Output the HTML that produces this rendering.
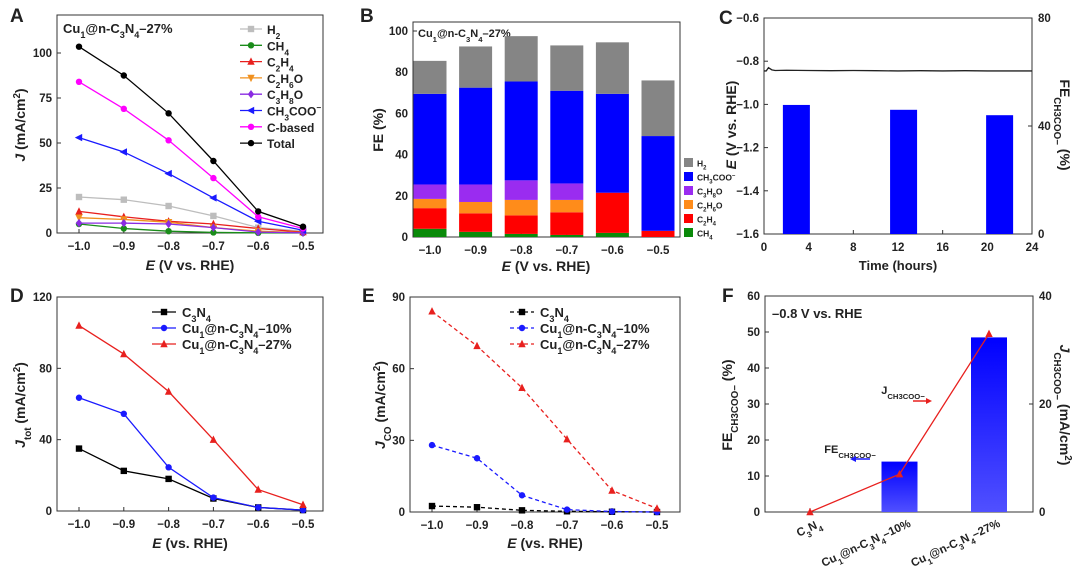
<!DOCTYPE html>
<html><head><meta charset="utf-8"><style>
body{margin:0;background:#fff}
svg{display:block;font-family:"Liberation Sans",sans-serif}
text{font-weight:bold;fill:#222}
</style></head><body>
<svg id="s" width="1080" height="571" viewBox="0 0 1080 571">
<defs><linearGradient id="gb" x1="0" y1="0" x2="0" y2="1"><stop offset="0" stop-color="#0000ff"/><stop offset="1" stop-color="#5050ff"/></linearGradient></defs>
</svg>
<script>
// ---------- data ----------
const potentials=[-1.0,-0.9,-0.8,-0.7,-0.6,-0.5];
const aH2=[20,18.5,15,9.5,3,1];
const aCH4=[5,2.5,1,0.3,0.1,0];
const aC2H4=[12,9,6.5,5,2.5,0.5];
const aC2H6O=[8.5,7.5,6,3,1,0.2];
const aC3H8O=[5.5,5.5,5,3,0.5,0.1];
const aCH3COO=[53,45,33,19.5,6.5,1.5];
const aCbased=[84,69,51.5,30.5,9,2.5];
const aTotal=[103.5,87.5,66.5,40,12,3.5];
const bCH4=[4,2.5,1.5,1,2,0];
const bC2H4=[10,9,9,11,19.5,3];
const bC2H6O=[4.5,5.5,7.5,6,0,0];
const bC3H8O=[7,8.5,9.5,8,0,0];
const bCH3COO=[44,47,48,45,48,46];
const bH2=[16,20,22,22,25,27];
const cTime=[0,0.2,0.4,0.7,1,2,4,6,8,10,12,14,16,18,20,22,24];
const cE=[-0.845,-0.845,-0.83,-0.84,-0.843,-0.842,-0.843,-0.844,-0.843,-0.844,-0.845,-0.844,-0.845,-0.844,-0.845,-0.845,-0.845];
const cBarT=[2.9,12.5,21.1];
const cBarFE=[47.8,46,44];
const dC3N4=[35,22.5,18,7,2,0.5];
const d10=[63.5,54.5,24.5,7.5,2,0.5];
const d27=[104,88,67,40,12,3.5];
const eC3N4=[2.5,2,0.7,0.3,0.1,0];
const e10=[28,22.5,7,1,0.2,0];
const e27=[84,69.5,52,30.5,9,1.5];
const fCats=["C_3N_4","Cu_1@n-C_3N_4–10%","Cu_1@n-C_3N_4–27%"];
const fFE=[0,14,48.5];
const fJ=[0,7,33];
const xTicks=[-1.0,-0.9,-0.8,-0.7,-0.6,-0.5];

const S=document.getElementById('s');
const NS='http://www.w3.org/2000/svg';
function mk(tag,attrs,name,parent){const el=document.createElementNS(NS,tag);for(const k in attrs)el.setAttribute(k,attrs[k]);


(parent||S).appendChild(el);return el;}
function fmt(s){return s.replace(/_(\{[^}]*\}|.)/g,(m,g)=>'<tspan baseline-shift="sub" font-size="70%">'+g.replace(/[{}]/g,'')+'</tspan>').replace(/\^(\{[^}]*\}|.)/g,(m,g)=>'<tspan baseline-shift="super" font-size="70%">'+g.replace(/[{}]/g,'')+'</tspan>');}
function txt(x,y,s,size,name,opt){opt=opt||{};const t=mk('text',{x:x,y:y,'font-size':size,'text-anchor':opt.anchor||'middle',fill:opt.fill||'#222'},name);
if(opt.rot!==undefined)t.setAttribute('transform','rotate('+opt.rot+' '+x+' '+y+')');
if(opt.italicFirst){t.innerHTML='<tspan font-style="italic">'+opt.italicFirst+'</tspan>'+fmt(s);}else t.innerHTML=fmt(s);return t;}
function lin(d0,d1,p0,p1){return v=>p0+(v-d0)*(p1-p0)/(d1-d0);}
function box(x0,y0,x1,y1,name){mk('rect',{x:x0,y:y0,width:x1-x0,height:y1-y0,fill:'none',stroke:'#333','stroke-width':1},name);}
function marker(type,x,y,c,name){const r=3.2;let el;
if(type==='s')el=mk('rect',{x:x-r,y:y-r,width:2*r,height:2*r,fill:c},name);
else if(type==='o')el=mk('circle',{cx:x,cy:y,r:r,fill:c},name);
else{let p;if(type==='^')p=[[x,y-r-1],[x-r-0.5,y+r],[x+r+0.5,y+r]];else if(type==='v')p=[[x,y+r+1],[x-r-0.5,y-r],[x+r+0.5,y-r]];else if(type==='d')p=[[x,y-r-1],[x+r,y],[x,y+r+1],[x-r,y]];else p=[[x-r-1,y],[x+r,y-r-0.5],[x+r,y+r+0.5]];
el=mk('polygon',{points:p.map(q=>q.join(',')).join(' '),fill:c},name);}return el;}
function series(X,Y,xs,ys,c,m,name,dash){const pts=xs.map((v,i)=>X(v)+','+Y(ys[i])).join(' ');
mk('polyline',{points:pts,fill:'none',stroke:c,'stroke-width':1.3,'stroke-dasharray':dash||'none'},name+'-line');
xs.forEach((v,i)=>marker(m,X(v),Y(ys[i]),c,name+'-point'));}
function yTicks(Y,x,vals,labels,name,side){vals.forEach((v,i)=>{const dir=side==='r'?-1:1;
mk('line',{x1:x,y1:Y(v),x2:x+4*dir,y2:Y(v),stroke:'#333'},name+'-tick');
if(labels)txt(side==='r'?x+6:x-5,Y(v)+4,labels[i],11.5,name+'-label',{anchor:side==='r'?'start':'end'});});}
function xTick(X,y,vals,labels,name){vals.forEach((v,i)=>{mk('line',{x1:X(v),y1:y,x2:X(v),y2:y-4,stroke:'#333'},name+'-tick');
if(labels)txt(X(v),y+17,labels[i],11.5,name+'-label');});}
const potLabels=xTicks.map(v=>'−'+Math.abs(v).toFixed(1));

// ---------- panel letters ----------
[['A',10,22],['B',360,22],['C',719,24],['D',10,302],['E',362,302],['F',722,302]].forEach(p=>txt(p[1],p[2],p[0],19,'panel-label-'+p[0].toLowerCase(),{anchor:'start'}));

// ---------- Panel A ----------
{const X=lin(-1,-0.5,79,303),Y=lin(0,100,233,53);box(57,15,323,233,'panel-a-plot-area');
yTicks(Y,57,[0,25,50,75,100],['0','25','50','75','100'],'a-y');xTick(X,233,xTicks,potLabels,'a-x');
txt(25,125,' (mA/cm^2)',14,'a-y-axis-title',{rot:-90,italicFirst:'J'});
txt(190,270,' (V vs. RHE)',14,'a-x-axis-title',{italicFirst:'E'});
txt(63,33,'Cu_1@n-C_3N_4–27%',13,'a-sample-label',{anchor:'start'});
const S_=[[aH2,'#bdbdbd','s','H_2'],[aCH4,'#1a8c1a','o','CH_4'],[aC2H4,'#e8201e','^','C_2H_4'],[aC2H6O,'#f0901e','v','C_2H_6O'],[aC3H8O,'#8a2be2','d','C_3H_8O'],[aCH3COO,'#1a1aff','<','CH_3COO^−'],[aCbased,'#ff00ff','o','C-based'],[aTotal,'#000','o','Total']];
S_.forEach((s,i)=>{series(X,Y,potentials,s[0],s[1],s[2],'a-series-'+i);
const ly=29+i*16.3;mk('line',{x1:240,y1:ly,x2:262,y2:ly,stroke:s[1],'stroke-width':1.3},'a-legend-line');marker(s[2],251,ly,s[1],'a-legend-marker');txt(267,ly+5,s[3],12,'a-legend-entry',{anchor:'start'});});}

// ---------- Panel B ----------
{const X=lin(-1,-0.5,430,658),Y=lin(0,100,237,31);box(413,22,680,237,'panel-b-plot-area');
yTicks(Y,413,[0,20,40,60,80,100],['0','20','40','60','80','100'],'b-y');xTick(X,237,xTicks,potLabels,'b-x');
txt(383,130,'FE (%)',14,'b-y-axis-title',{rot:-90});
txt(546,271,' (V vs. RHE)',14,'b-x-axis-title',{italicFirst:'E'});
txt(418,37,'Cu_1@n-C_3N_4–27%',11,'b-sample-label',{anchor:'start'});
const L=[[bCH4,'#0a8a0a','CH_4'],[bC2H4,'#ff0000','C_2H_4'],[bC2H6O,'#ff8c1a','C_2H_6O'],[bC3H8O,'#9a2cf0','C_3H_8O'],[bCH3COO,'#0000ff','CH_3COO^−'],[bH2,'#858585','H_2']];
potentials.forEach((p,i)=>{let acc=0;L.forEach(l=>{const v=l[0][i];mk('rect',{x:X(p)-16.5,y:Y(acc+v),width:33,height:Y(acc)-Y(acc+v),fill:l[1]},'b-bar-segment');acc+=v;});});
L.slice().reverse().forEach((l,i)=>{const ly=163+i*14;mk('rect',{x:684,y:ly-5,width:9,height:9,fill:l[1]},'b-legend-swatch');txt(697,ly+3.5,l[2],8.5,'b-legend-entry',{anchor:'start'});});}

// ---------- Panel C ----------
{const X=lin(0,24,764,1032),Y=lin(-0.6,-1.6,18,234),Y2=lin(0,80,234,18);box(764,18,1032,234,'panel-c-plot-area');
yTicks(Y,764,[-0.6,-0.8,-1.0,-1.2,-1.4,-1.6],['−0.6','−0.8','−1.0','−1.2','−1.4','−1.6'],'c-y');
yTicks(Y2,1032,[0,40,80],['0','40','80'],'c-y2','r');
xTick(X,234,[0,4,8,12,16,20,24],['0','4','8','12','16','20','24'],'c-x');
cBarT.forEach((t,i)=>mk('rect',{x:X(t)-13.5,y:Y2(cBarFE[i]),width:27,height:234-Y2(cBarFE[i]),fill:'#0000ff'},'c-fe-bar'));
mk('polyline',{points:cTime.map((t,i)=>X(t)+','+Y(cE[i])).join(' '),fill:'none',stroke:'#222','stroke-width':1.3},'c-potential-line');
txt(736,125,' (V vs. RHE)',14,'c-y-axis-title',{rot:-90,italicFirst:'E'});
txt(1060,125,'FE_{CH3COO−} (%)',14,'c-y2-axis-title',{rot:90});
txt(898,270,'Time (hours)',13,'c-x-axis-title');}

// ---------- Panel D ----------
{const X=lin(-1,-0.5,79,303),Y=lin(0,120,511,297);box(57,297,323,511,'panel-d-plot-area');
yTicks(Y,57,[0,40,80,120],['0','40','80','120'],'d-y');xTick(X,511,xTicks,potLabels,'d-x');
txt(25,405,'_{tot} (mA/cm^2)',14,'d-y-axis-title',{rot:-90,italicFirst:'J'});
txt(190,548,' (vs. RHE)',14,'d-x-axis-title',{italicFirst:'E'});
const D=[[dC3N4,'#000','s','C_3N_4'],[d10,'#1a1aff','o','Cu_1@n-C_3N_4–10%'],[d27,'#e8201e','^','Cu_1@n-C_3N_4–27%']];
D.forEach((s,i)=>{series(X,Y,potentials,s[0],s[1],s[2],'d-series-'+i);const ly=312+i*16;mk('line',{x1:152,y1:ly,x2:176,y2:ly,stroke:s[1],'stroke-width':1.3},'d-legend-line');marker(s[2],164,ly,s[1],'d-legend-marker');txt(182,ly+5,s[3],13,'d-legend-entry',{anchor:'start'});});}

// ---------- Panel E ----------
{const X=lin(-1,-0.5,432,657),Y=lin(0,90,512,297);box(410,297,680,512,'panel-e-plot-area');
yTicks(Y,410,[0,30,60,90],['0','30','60','90'],'e-y');xTick(X,512,xTicks,potLabels,'e-x');
txt(385,405,'_{CO} (mA/cm^2)',14,'e-y-axis-title',{rot:-90,italicFirst:'J'});
txt(545,548,' (vs. RHE)',14,'e-x-axis-title',{italicFirst:'E'});
const E=[[eC3N4,'#000','s','C_3N_4'],[e10,'#1a1aff','o','Cu_1@n-C_3N_4–10%'],[e27,'#e8201e','^','Cu_1@n-C_3N_4–27%']];
E.forEach((s,i)=>{series(X,Y,potentials,s[0],s[1],s[2],'e-series-'+i,'4,3');const ly=312+i*16;mk('line',{x1:510,y1:ly,x2:534,y2:ly,stroke:s[1],'stroke-width':1.3,'stroke-dasharray':'4,3'},'e-legend-line');marker(s[2],522,ly,s[1],'e-legend-marker');txt(540,ly+5,s[3],13,'e-legend-entry',{anchor:'start'});});}

// ---------- Panel F ----------
{const X=lin(0,2,810,989),Y=lin(0,60,512,296),Y2=lin(0,40,512,296);box(765,296,1033,512,'panel-f-plot-area');
yTicks(Y,765,[0,10,20,30,40,50,60],['0','10','20','30','40','50','60'],'f-y');
yTicks(Y2,1033,[0,20,40],['0','20','40'],'f-y2','r');
fCats.forEach((c,i)=>{mk('line',{x1:X(i),y1:512,x2:X(i),y2:508,stroke:'#333'},'f-x-tick');
const t=txt(X(i)+12,526,c,11.5,'f-x-label',{anchor:'end',rot:-25});});
fFE.forEach((v,i)=>{if(v>0)mk('rect',{x:X(i)-18,y:Y(v),width:36,height:512-Y(v),fill:'url(#gb)'},'f-fe-bar');});
mk('polyline',{points:fJ.map((v,i)=>X(i)+','+Y2(v)).join(' '),fill:'none',stroke:'#e8201e','stroke-width':1.3},'f-j-line');
fJ.forEach((v,i)=>marker('^',X(i),Y2(v),'#e8201e','f-j-point'));
txt(772,318,'–0.8 V vs. RHE',13,'f-condition-label',{anchor:'start'});
txt(732,405,'FE_{CH3COO−} (%)',14,'f-y-axis-title',{rot:-90});
txt(1060,405,'_{CH3COO−} (mA/cm^2)',14,'f-y2-axis-title',{rot:90,italicFirst:'J'});
txt(903,394,'J_{CH3COO−}',11,'f-j-annotation',{fill:'#e8201e'});
mk('line',{x1:913,y1:401,x2:928,y2:401,stroke:'#e8201e','stroke-width':1.5},'f-j-arrow');
mk('polygon',{points:'932,401 926,398 926,404',fill:'#e8201e'},'f-j-arrowhead');
txt(850,453,'FE_{CH3COO−}',11,'f-fe-annotation',{fill:'#1a1aff'});
mk('line',{x1:855,y1:459,x2:870,y2:459,stroke:'#1a1aff','stroke-width':1.5},'f-fe-arrow');
mk('polygon',{points:'850,459 856,456 856,462',fill:'#1a1aff'},'f-fe-arrowhead');}
</script>
</body></html>
